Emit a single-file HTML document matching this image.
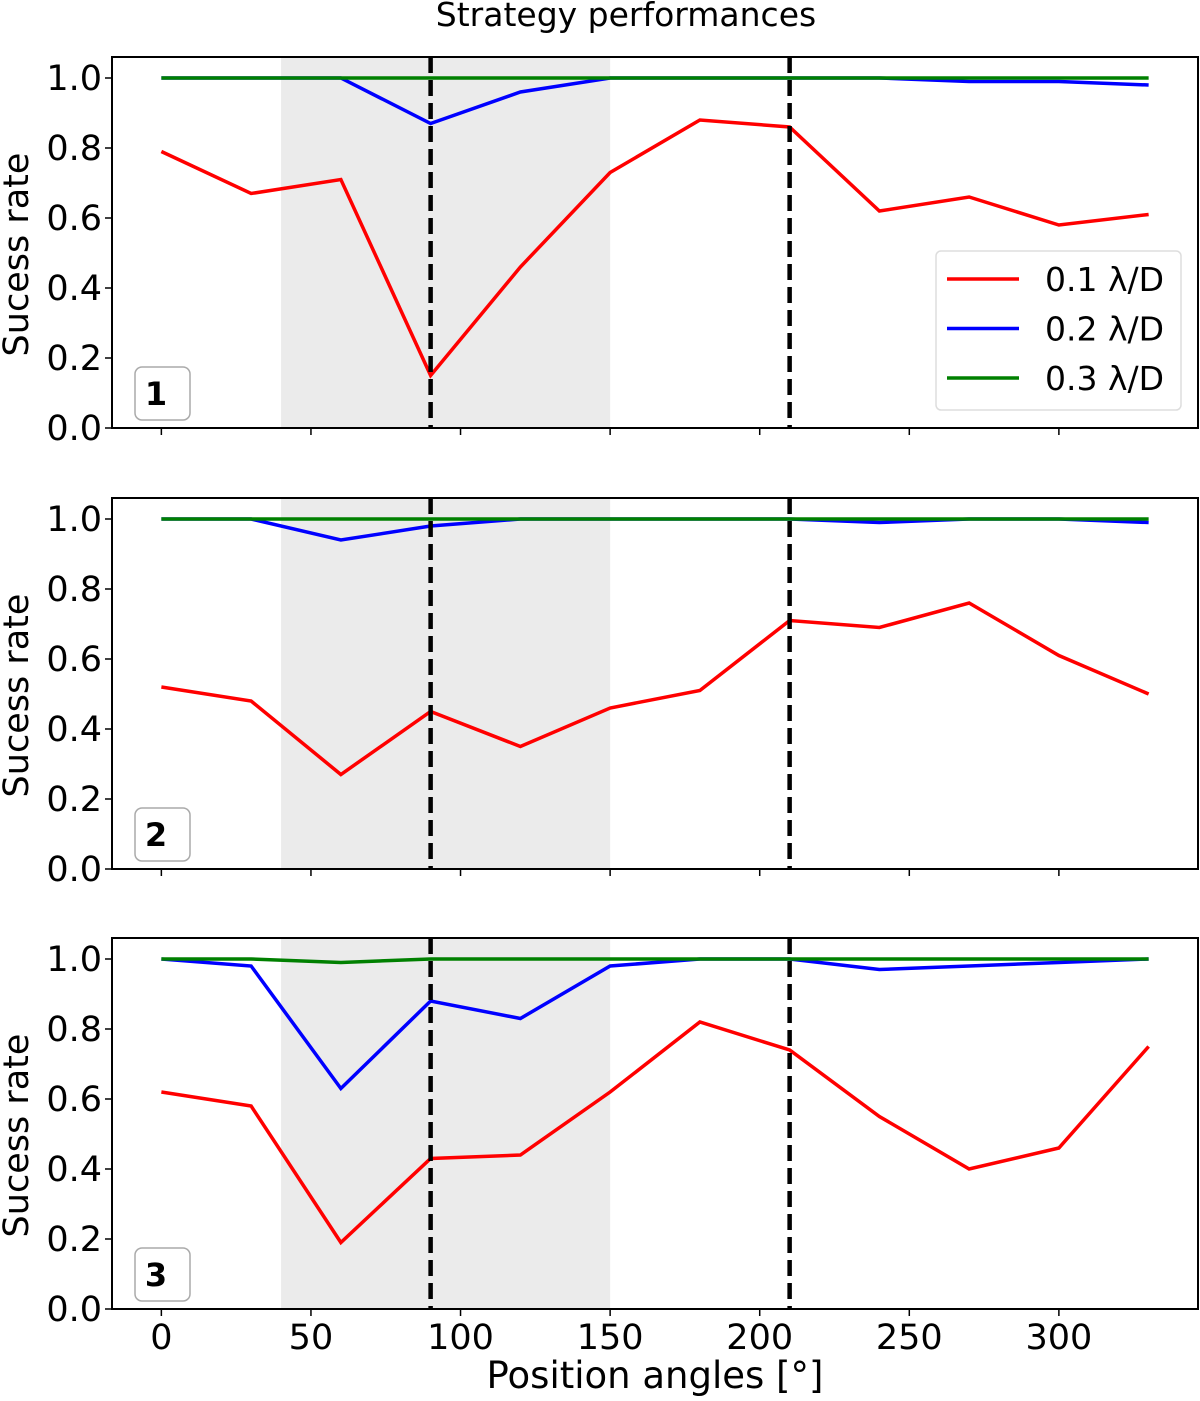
<!DOCTYPE html>
<html><head><meta charset="utf-8"><style>
body{margin:0;background:#fff}
svg text{font-family:"DejaVu Sans","Liberation Sans",sans-serif;fill:#000}
</style></head><body>
<svg id="chart" width="1200" height="1396" viewBox="0 0 1200 1396" xmlns="http://www.w3.org/2000/svg">
<text x="626" y="26" font-size="33" text-anchor="middle">Strategy performances</text>
<text x="655" y="1388" font-size="37" text-anchor="middle">Position angles [°]</text>
</svg>
<script>
const angles=[0,30,60,90,120,150,180,210,240,270,300,330];
const red1=[0.79,0.67,0.71,0.15,0.46,0.73,0.88,0.86,0.62,0.66,0.58,0.61];
const blue1=[1,1,1,0.87,0.96,1,1,1,1,0.99,0.99,0.98];
const green1=[1,1,1,1,1,1,1,1,1,1,1,1];
const red2=[0.52,0.48,0.27,0.45,0.35,0.46,0.51,0.71,0.69,0.76,0.61,0.50];
const blue2=[1,1,0.94,0.98,1,1,1,1,0.99,1,1,0.99];
const green2=[1,1,1,1,1,1,1,1,1,1,1,1];
const red3=[0.62,0.58,0.19,0.43,0.44,0.62,0.82,0.74,0.55,0.40,0.46,0.75];
const blue3=[1,0.98,0.63,0.88,0.83,0.98,1,1,0.97,0.98,0.99,1.0];
const green3=[1,1,0.99,1,1,1,1,1,1,1,1,1];
const yTicks=[0,0.2,0.4,0.6,0.8,1.0];
const xTicks=[0,50,100,150,200,250,300];
const shadeRange=[40,150];
const dashedAngles=[90,210];
const seriesLabels=['0.1 λ/D','0.2 λ/D','0.3 λ/D'];
const panelLabels=['1','2','3'];
const panelData=[[red1,blue1,green1],[red2,blue2,green2],[red3,blue3,green3]];
const colors=['#ff0000','#0000ff','#008000'];
const NS='http://www.w3.org/2000/svg';
const svg=document.getElementById('chart');
const L=112,R=1198;
const X=v=>L+(v+16.5)*(R-L)/363;
function mk(t,a,p){const e=document.createElementNS(NS,t);for(const k in a)e.setAttribute(k,a[k]);(p||svg).appendChild(e);return e;}
const zeros=[428,869,1309];
panelData.forEach((ser,pi)=>{
  const y0=zeros[pi];const Y=v=>y0-v*350;const top=Y(1.06);
  const g=mk('g',{});
  
  
  const sh=mk('rect',{x:X(shadeRange[0]),y:top,width:X(shadeRange[1])-X(shadeRange[0]),height:y0-top,fill:'#ebebeb'},g);
  
  
  ser.forEach((vals,si)=>{
    const pl=mk('polyline',{points:vals.map((v,i)=>X(angles[i])+','+Y(v)).join(' '),fill:'none',stroke:colors[si],'stroke-width':3.5},g);
    
    
  });
  dashedAngles.forEach(a=>{
    const d=mk('line',{x1:X(a),x2:X(a),y1:top,y2:y0,stroke:'#000','stroke-width':4.5,'stroke-dasharray':'16,7'},g);
    
    
  });
  const fr=mk('rect',{x:L,y:top,width:R-L,height:y0-top,fill:'none',stroke:'#000','stroke-width':2},g);
  
  
  yTicks.forEach(t=>{
    mk('line',{x1:L-7,x2:L,y1:Y(t),y2:Y(t),stroke:'#000','stroke-width':1.5},g);
    const tx=mk('text',{x:L-10,y:Y(t)+12,'font-size':35,'text-anchor':'end'},g);
    tx.textContent=t.toFixed(1);
    
    
  });
  xTicks.forEach(t=>{
    mk('line',{x1:X(t),x2:X(t),y1:y0,y2:y0+7,stroke:'#000','stroke-width':1.5},g);
    if(pi===2){const tx=mk('text',{x:X(t),y:y0+40,'font-size':35,'text-anchor':'middle'},g);
      tx.textContent=t;
      
      }
  });
  const yl=mk('text',{x:0,y:0,'font-size':35,'text-anchor':'middle',transform:`translate(28,${(top+y0)/2+12}) rotate(-90)`},g);
  yl.textContent='Sucess rate';
  
  
  const bx=mk('rect',{x:135,y:y0-61,width:55,height:53,rx:7,fill:'#fff',stroke:'#aaa','stroke-width':1.5},g);
  
  
  const bl=mk('text',{x:156,y:y0-23,'font-size':32,'font-weight':'bold','text-anchor':'middle'},g);
  bl.textContent=panelLabels[pi];
  
  
});
const lg=mk('g',{});


mk('rect',{x:936,y:251,width:245,height:159,rx:5,fill:'#fff','fill-opacity':0.85,stroke:'#ddd','stroke-width':1.5},lg);
seriesLabels.forEach((s,i)=>{
  const yy=279+i*49.5;
  const ln=mk('line',{x1:947,x2:1019,y1:yy,y2:yy,stroke:colors[i],'stroke-width':3.5},lg);
  
  
  const t=mk('text',{x:1045,y:yy+12,'font-size':33},lg);
  t.textContent=s;
  
  
});
</script>
</body></html>
